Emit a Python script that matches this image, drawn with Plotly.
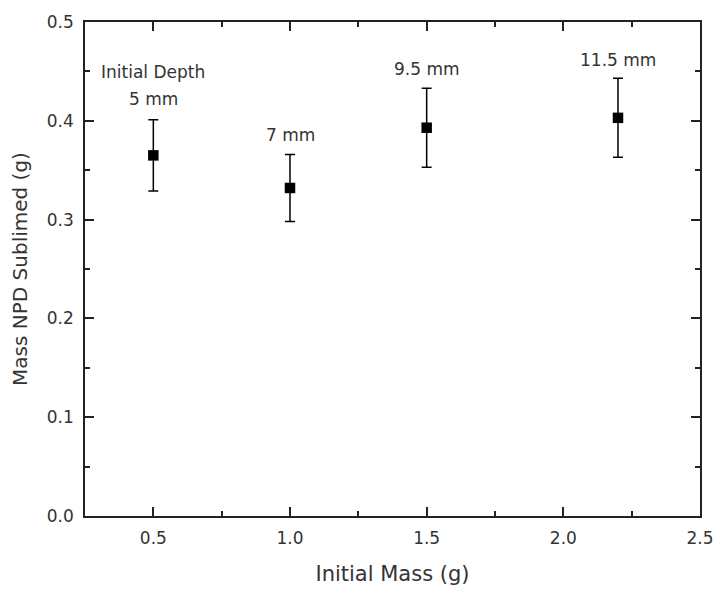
import plotly.graph_objects as go

mass = [0.5, 1.0, 1.5, 2.2]
sublimed = [0.365, 0.332, 0.393, 0.403]
err = [0.036, 0.034, 0.040, 0.040]
depth_labels = ["5 mm", "7 mm", "9.5 mm", "11.5 mm"]
label_y = [0.422, 0.386, 0.452, 0.462]
header_text = "Initial Depth"
header_y = 0.449

font = "DejaVu Sans, sans-serif"
txt = "#333"
fig = go.Figure()
fig.add_trace(go.Scatter(
    x=mass, y=sublimed, mode="markers",
    marker=dict(symbol="square", size=10.5, color="black"),
    error_y=dict(type="data", array=err, visible=True, color="black", thickness=1.5, width=5),
    showlegend=False,
))
for x, y, t in zip(mass, label_y, depth_labels):
    fig.add_annotation(x=x, y=y, text=t, showarrow=False, xref="x", yref="y",
                       font=dict(family=font, size=17, color=txt))
fig.add_annotation(x=mass[0], y=header_y, text=header_text, showarrow=False, xref="x", yref="y",
                   font=dict(family=font, size=17, color=txt))

axis_common = dict(showline=True, linecolor="#222", linewidth=1.5, mirror="allticks",
                   ticks="inside", ticklen=9, tickwidth=1.5, tickcolor="#222",
                   showgrid=False, zeroline=False, ticklabelstandoff=6,
                   tickfont=dict(family=font, size=17, color=txt))
fig.update_xaxes(range=[0.25, 2.5], tickvals=[0.5, 1.0, 1.5, 2.0, 2.5],
                 ticktext=["0.5", "1.0", "1.5", "2.0", "2.5"],
                 minor=dict(tickvals=[0.75, 1.25, 1.75, 2.25], ticklen=5, tickwidth=1.5,
                            tickcolor="#222", ticks="inside"),
                 title=dict(text="Initial Mass (g)", font=dict(family=font, size=21, color=txt), standoff=19),
                 **axis_common)
fig.update_yaxes(range=[0, 0.5], tickvals=[0, 0.1, 0.2, 0.3, 0.4, 0.5],
                 ticktext=["0.0", "0.1", "0.2", "0.3", "0.4", "0.5"],
                 minor=dict(tickvals=[0.05, 0.15, 0.25, 0.35, 0.45], ticklen=5, tickwidth=1.5,
                            tickcolor="#222", ticks="inside"),
                 title=dict(text="Mass NPD Sublimed (g)", font=dict(family=font, size=20, color=txt), standoff=14),
                 **axis_common)
fig.update_layout(width=726, height=594, margin=dict(l=85, r=17, t=17, b=75),
                  plot_bgcolor="white", paper_bgcolor="white")
fig.write_html("out.html")
